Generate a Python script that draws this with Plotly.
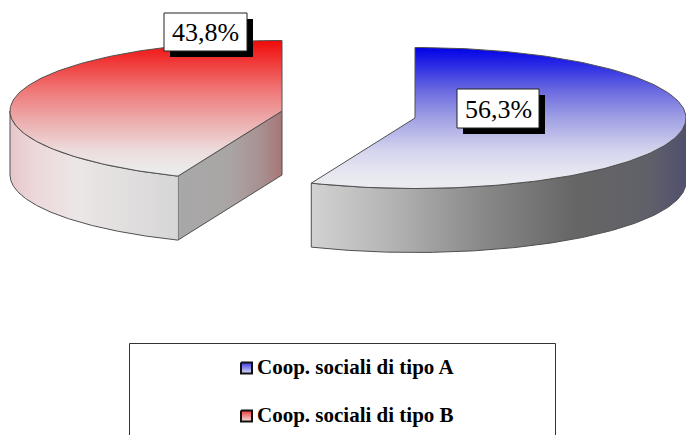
import numpy as np
import plotly.graph_objects as go

categories = ["Coop. sociali di tipo A", "Coop. sociali di tipo B"]
shares = [56.25, 43.75]
share_labels = ["56,3%", "43,8%"]

TOTAL = sum(shares)
DEPTH = 64
OUTLINE = "#505050"
FONT = "Liberation Serif"


def arc(cx, cy, rx, ry, a0, a1, n=160):
    t = np.radians(np.linspace(a0, a1, n))
    return cx + rx * np.sin(t), cy - ry * np.cos(t)


def poly(fig, x, y, kind, colors, start, stop, lw=1.0):
    fig.add_trace(go.Scatter(
        x=list(x), y=list(y), mode="lines", fill="toself",
        line=dict(color=OUTLINE, width=lw),
        fillgradient=dict(type=kind, colorscale=colors, start=start, stop=stop),
        hoverinfo="skip", showlegend=False,
    ))


fig = go.Figure()

split = shares[0] / TOTAL * 360

# Red slice (B): from the end of A to the full circle
cx, cy, rx, ry = 282, 111, 272, 70.5
px = cx + rx * np.sin(np.radians(split))
py = cy - ry * np.cos(np.radians(split))
poly(fig, [cx, px, px, cx, cx], [cy, py, py + DEPTH, cy + DEPTH, cy], "horizontal",
     [[0, "#a8a8a8"], [0.5, "#aaa5a5"], [0.8, "#a89090"], [1, "#a87676"]], px, cx)
ax, ay = arc(cx, cy, rx, ry, split, 270)
poly(fig, np.r_[ax, ax[::-1]], np.r_[ay, ay[::-1] + DEPTH], "horizontal",
     [[0, "#e6c6c8"], [0.15, "#ecd8da"], [0.4, "#ece6e6"], [1, "#d6d6d6"]], cx - rx, px)
ax, ay = arc(cx, cy, rx, ry, split, 360)
poly(fig, np.r_[cx, ax, cx], np.r_[cy, ay, cy], "vertical",
     [[0, "#f00a0a"], [0.37, "#f07878"], [0.59, "#ecacac"], [0.81, "#eddcdc"],
      [0.96, "#ecebeb"], [1, "#ecebeb"]], cy - ry, py)

# Blue slice (A): from the top round to the split angle
cx, cy, rx, ry = 415, 118, 271, 70.5
ax, ay = arc(cx, cy, rx, ry, 90, split)
poly(fig, np.r_[ax, ax[::-1]], np.r_[ay, ay[::-1] + DEPTH], "horizontal",
     [[0, "#50506e"], [0.1, "#60606a"], [0.3, "#666666"], [0.55, "#8a8a8a"],
      [0.8, "#b6b6b6"], [1, "#d2d2d2"]], cx + rx, cx + rx * np.sin(np.radians(split)))
ax, ay = arc(cx, cy, rx, ry, 0, split)
poly(fig, np.r_[cx, ax, cx], np.r_[cy, ay, cy], "vertical",
     [[0, "#0000e8"], [0.3, "#6868e0"], [0.5, "#a0a0e4"], [0.73, "#d4d4ee"],
      [0.9, "#e8e8f2"], [1, "#ebebf0"]], cy - ry, cy + ry)

# Legend swatches
swatch_top = [362, 410]
swatch_colors = [["#3030e0", "#e8e8f4"], ["#f03030", "#f4e8e8"]]
for top, c in zip(swatch_top, swatch_colors):
    poly(fig, [241, 252, 252, 241, 241], [top + .5, top + .5, top + 11.5, top + 11.5, top + .5],
         "vertical", [[0, c[0]], [1, c[1]]], top, top + 12, lw=2)
    fig.data[-1].line.color = "#111111"

shapes = [
    dict(type="rect", x0=129.5, x1=555.5, y0=343.5, y1=445, line=dict(color="#333333", width=1),
         fillcolor="rgba(0,0,0,0)"),
]
boxes = [(457, 89, 539, 128), (164, 13, 247, 51)]
annotations = []
for (x0, y0, x1, y1), lab in zip(boxes, share_labels):
    shapes.append(dict(type="rect", x0=x0 + 6, x1=x1 + 6, y0=y0 + 6, y1=y1 + 6, fillcolor="#000000",
                       line=dict(width=0)))
    shapes.append(dict(type="rect", x0=x0, x1=x1, y0=y0, y1=y1, fillcolor="#ffffff",
                       line=dict(color="#222222", width=1)))
    annotations.append(dict(x=(x0 + x1) / 2, y=(y0 + y1) / 2 + 0.5, text=lab, showarrow=False,
                            xanchor="center", yanchor="middle",
                            font=dict(family=FONT, size=26, color="#000000")))
for top, cat in zip(swatch_top, categories):
    annotations.append(dict(x=255, y=top + 5, text=f"<b>{cat}</b>", showarrow=False,
                            xanchor="left", yanchor="middle",
                            font=dict(family=FONT, size=21, color="#000000")))

fig.update_layout(
    width=686, height=435, margin=dict(l=0, r=0, t=0, b=0),
    paper_bgcolor="#ffffff", plot_bgcolor="#ffffff", showlegend=False,
    xaxis=dict(range=[0, 686], visible=False, fixedrange=True),
    yaxis=dict(range=[435, 0], visible=False, fixedrange=True),
    shapes=shapes, annotations=annotations,
)
for s in fig.layout.shapes:
    s.layer = "above"
fig.write_html("out.html", config=dict(displayModeBar=False),
               post_script="document.body.style.margin='0';")
